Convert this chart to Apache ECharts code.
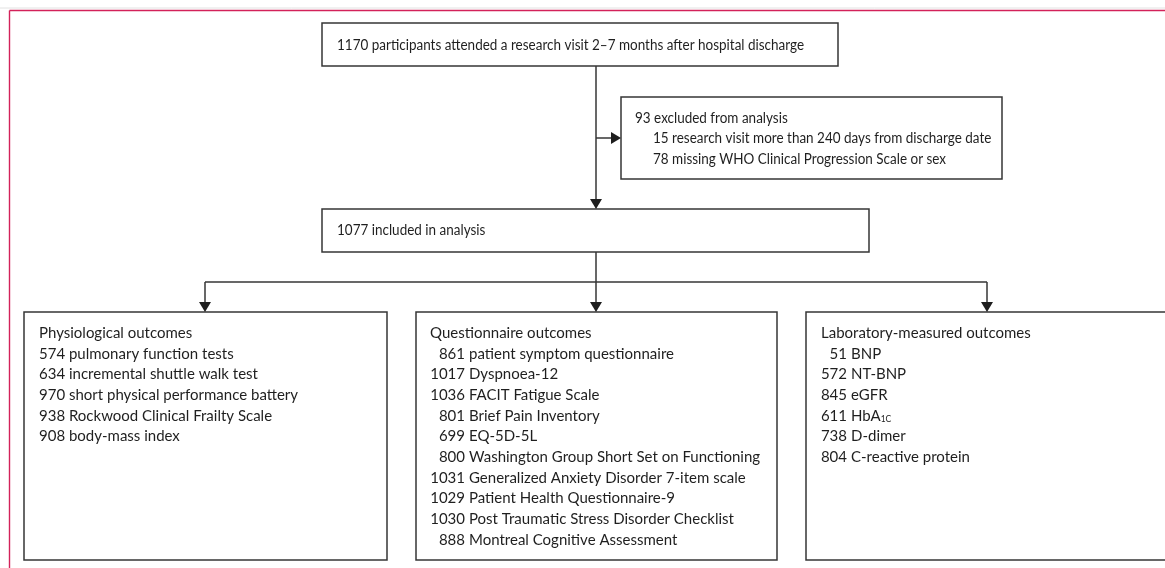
<!DOCTYPE html>
<html>
<head>
<meta charset="utf-8">
<script src="https://cdn.jsdelivr.net/npm/echarts@6/dist/echarts.min.js"></script>
<style>
html,body{margin:0;padding:0;background:#fff;}
#chart{width:1165px;height:568px;}
</style>
</head>
<body>
<div id="chart"></div>
<script>
// ---- data ----
const topText = "1170 participants attended a research visit 2\u20137 months after hospital discharge";
const excludedTitle = "93 excluded from analysis";
const excludedCounts = [15, 78];
const excludedReasons = ["research visit more than 240 days from discharge date", "missing WHO Clinical Progression Scale or sex"];
const includedText = "1077 included in analysis";
const physioTitle = "Physiological outcomes";
const physioCounts = [574, 634, 970, 938, 908];
const physioLabels = ["pulmonary function tests", "incremental shuttle walk test", "short physical performance battery", "Rockwood Clinical Frailty Scale", "body-mass index"];
const questTitle = "Questionnaire outcomes";
const questCounts = [861, 1017, 1036, 801, 699, 800, 1031, 1029, 1030, 888];
const questLabels = ["patient symptom questionnaire", "Dyspnoea-12", "FACIT Fatigue Scale", "Brief Pain Inventory", "EQ-5D-5L", "Washington Group Short Set on Functioning", "Generalized Anxiety Disorder 7-item scale", "Patient Health Questionnaire-9", "Post Traumatic Stress Disorder Checklist", "Montreal Cognitive Assessment"];
const labTitle = "Laboratory-measured outcomes";
const labCounts = [51, 572, 845, 611, 738, 804];
const labLabels = ["BNP", "NT-BNP", "eGFR", "HbA{sub|1C}", "D-dimer", "C-reactive protein"];

// ---- layout / style ----
const FONT = 'Lato';
const FS_TOP = 14.5, SX_TOP = 0.93;
const FS_BOT = 15, SX_BOT = 1;
const TXT = '#1f1f1f';
const LINE = '#363636';
const LW = 1.5;
const LH = 20.7;

const g = [];
function rect(x1, y1, x2, y2) {
  g.push({type:'rect', shape:{x:x1, y:y1, width:x2-x1, height:y2-y1}, style:{fill:'#fff', stroke:LINE, lineWidth:LW}, z:1});
}
function line(x1, y1, x2, y2) {
  g.push({type:'line', shape:{x1, y1, x2, y2}, style:{stroke:LINE, lineWidth:LW}, z:2});
}
function arrowDown(x, tip) {
  g.push({type:'polygon', shape:{points:[[x-6, tip-10], [x+6, tip-10], [x, tip]]}, style:{fill:'#1e1e1e'}, z:3});
}
function arrowRight(tip, y) {
  g.push({type:'polygon', shape:{points:[[tip-10, y-6], [tip-10, y+6], [tip, y]]}, style:{fill:'#1e1e1e'}, z:3});
}
function text(x, y, s, fs, sx, align) {
  g.push({type:'text', x, y, scaleX: sx, style:{text:s, fill:TXT, font: fs + 'px ' + FONT, textAlign: align || 'left', textVerticalAlign:'middle',
    rich:{sub:{fontSize:8.5, fontFamily:FONT, fill:TXT, verticalAlign:'bottom', padding:[7,0,0,0]}}}, z:4});
}

// frame
g.push({type:'line', shape:{x1:0, y1:8, x2:1170, y2:8}, style:{stroke:'#e2e2e2', lineWidth:1}, z:0});
g.push({type:'line', shape:{x1:9.5, y1:10.5, x2:1170, y2:10.5}, style:{stroke:'#d3225a', lineWidth:1.4}, z:0});
g.push({type:'line', shape:{x1:9.5, y1:10.5, x2:9.5, y2:570}, style:{stroke:'#d3225a', lineWidth:1.4}, z:0});

// boxes
rect(322, 23, 838, 66);
rect(621, 97, 1002, 179);
rect(322, 209, 869, 252);
rect(24, 312, 387, 560);
rect(416, 312, 777, 560);
rect(806, 312, 1180, 560);

// connectors
line(596, 66, 596, 200);
arrowDown(596, 209);
line(596, 138, 612, 138);
arrowRight(621, 138);
line(596, 252, 596, 282);
line(205, 282, 987, 282);
[205, 596, 987].forEach(x => { line(x, 282, x, 303); arrowDown(x, 312); });

// texts
text(337, 45, topText, FS_TOP, SX_TOP);
text(635, 118, excludedTitle, FS_TOP, SX_TOP);
excludedCounts.forEach((c, i) => text(653, 138.5 + i * 20.5, c + ' ' + excludedReasons[i], FS_TOP, SX_TOP));
text(337, 230, includedText, FS_TOP, SX_TOP);

const ty = 333;
text(39, ty, physioTitle, FS_BOT, SX_BOT);
physioCounts.forEach((c, i) => text(39, ty + (i + 1) * LH, c + ' ' + physioLabels[i], FS_BOT, SX_BOT));

text(430, ty, questTitle, FS_BOT, SX_BOT);
questCounts.forEach((c, i) => { text(465, ty + (i + 1) * LH, String(c), FS_BOT, SX_BOT, 'right'); text(469, ty + (i + 1) * LH, questLabels[i], FS_BOT, SX_BOT); });

text(821, ty, labTitle, FS_BOT, SX_BOT);
labCounts.forEach((c, i) => { text(847, ty + (i + 1) * LH, String(c), FS_BOT, SX_BOT, 'right'); text(851, ty + (i + 1) * LH, labLabels[i], FS_BOT, SX_BOT); });

const chart = echarts.init(document.getElementById('chart'), null, {renderer:'canvas'});
chart.setOption({
  backgroundColor:'#fff',
  animation:false,
  graphic:{elements:g}
});
</script>
</body>
</html>
